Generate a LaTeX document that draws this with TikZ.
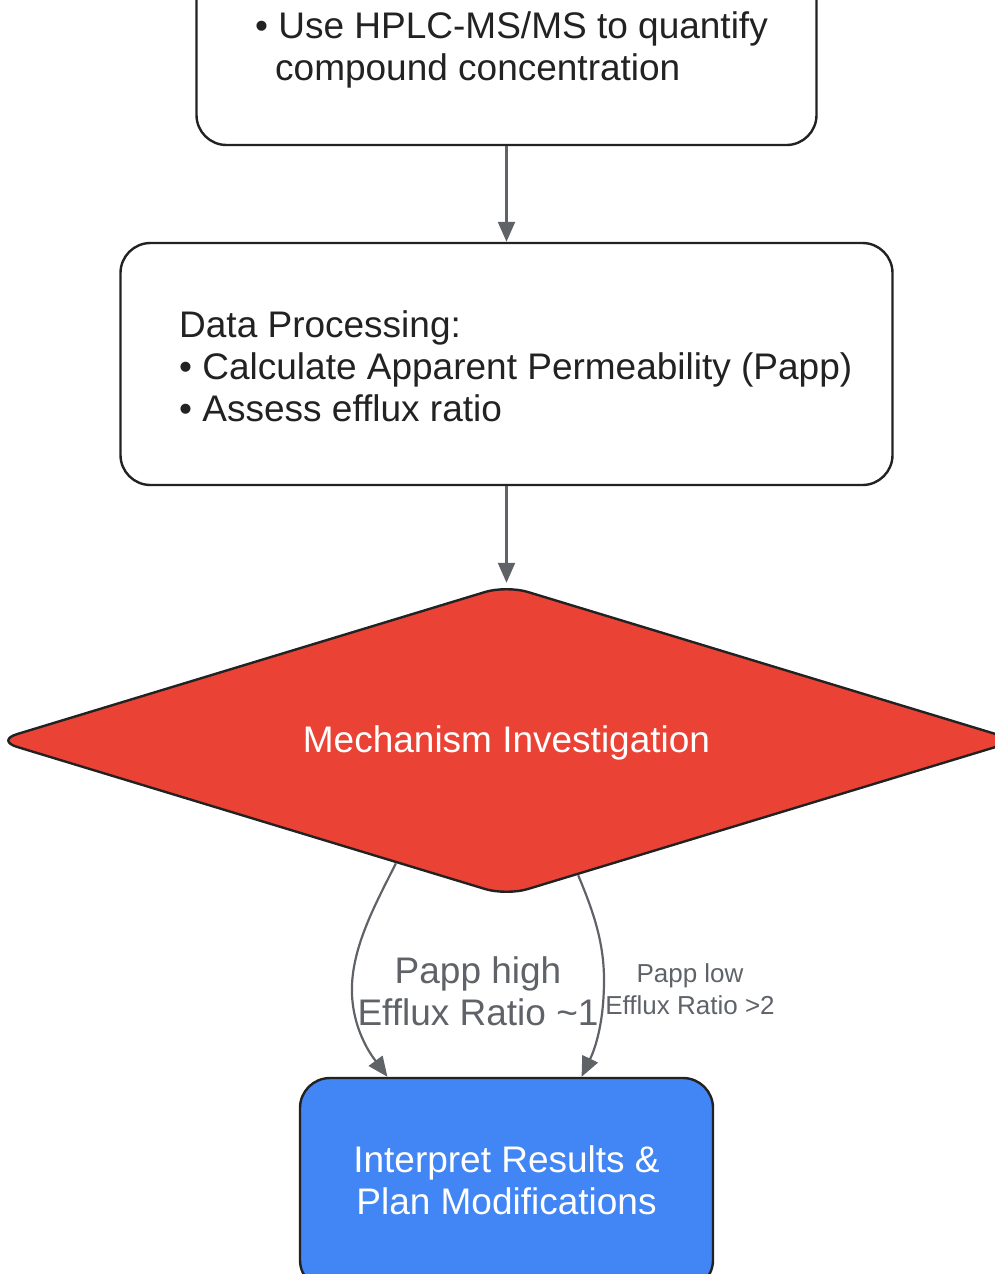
\documentclass[tikz,border=0pt]{standalone}
\usepackage{fontspec}
\setmainfont{Liberation Sans}
\usetikzlibrary{arrows.meta,shapes.geometric}
\definecolor{edgegray}{RGB}{95,99,104}
\definecolor{strokec}{RGB}{34,34,34}
\definecolor{textc}{RGB}{34,34,34}
\definecolor{redfill}{RGB}{234,67,53}
\definecolor{bluefill}{RGB}{66,133,244}
\begin{document}
\begin{tikzpicture}[x=1pt,y=-1pt,
  box/.style={draw=strokec,line width=2.4pt,rounded corners=30pt,inner sep=0pt},
  conn/.style={draw=edgegray,line width=2.2pt,-{Triangle[length=20pt,width=17pt]}},
  bigtext/.style={font=\fontsize{37}{42}\selectfont,inner sep=0pt},
  smalltext/.style={font=\fontsize{26}{32}\selectfont,inner sep=0pt}]
\useasboundingbox (0,0) rectangle (995,1274);

% top box (clipped at the top)
\node[box,fill=white,minimum width=620pt,minimum height=205pt] (top) at (506.5,42.5) {};
\node[bigtext,text=textc,align=left,anchor=west] (toptext) at (255,50)
  {• Use HPLC-MS/MS to quantify\\\hspace*{20pt}compound concentration};

% data processing box
\node[box,fill=white,minimum width=772pt,minimum height=242pt] (data) at (506.5,364) {};
\node[bigtext,text=textc,align=left,anchor=west] (datatext) at (179,366)
  {Data Processing:\\• Calculate Apparent Permeability (Papp)\\• Assess efflux ratio};

% decision diamond
\node[diamond,draw=strokec,fill=redfill,line width=2.4pt,rounded corners=22pt,
      minimum width=1022pt,minimum height=311pt,inner sep=0pt] (dia) at (506.5,740.5) {};
\node[bigtext,text=white] (diatext) at (506.5,743) {Mechanism Investigation};

% bottom box
\node[box,fill=bluefill,minimum width=413pt,minimum height=212pt] (bot) at (506.5,1184) {};
\node[bigtext,text=white,align=center] (bottext) at (506.5,1180)
  {Interpret Results \&\\Plan Modifications};

% connectors
\draw[conn] (top.south) -- (data.north);
\draw[conn] (data.south) -- ([yshift=1pt]dia.north);
\draw[conn] (dia.228.7) .. controls (375,905) and (350,950) .. (352,995)
  .. controls (354,1035) and (375,1060) .. (bot.138.2);
\draw[conn] (dia.298.5) .. controls (595,915) and (604,945) .. (604,980)
  .. controls (604,1030) and (592,1055) .. (bot.55.6);

% edge labels
\node[bigtext,text=edgegray,align=center] (lblhigh) at (478,991)
  {Papp high\\Efflux Ratio \textasciitilde1};
\node[smalltext,text=edgegray,align=center] (lbllow) at (690,989)
  {Papp low\\Efflux Ratio >2};
\end{tikzpicture}
\end{document}
